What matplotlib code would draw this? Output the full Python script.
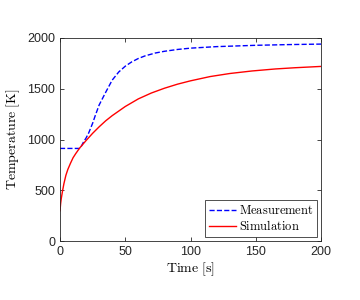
import matplotlib
matplotlib.use("Agg")
import matplotlib.pyplot as plt

meas_t = [0, 5, 10, 15, 16, 18, 20, 22, 25, 27, 30, 35, 40, 45, 50, 55, 60, 65, 73, 80, 90, 100, 120, 150, 175, 200]
meas_T = [912, 912, 912, 912, 925, 975, 1015, 1065, 1160, 1235, 1340, 1465, 1585, 1665, 1722, 1765, 1798, 1823, 1852, 1869, 1887, 1900, 1915, 1928, 1935, 1940]

sim_t = [0, 0.5, 1, 2, 3, 4.5, 6, 8, 10, 12, 15, 20, 25, 30, 35, 40, 50, 60, 70, 80, 90, 100, 115, 130, 147, 165, 180, 200]
sim_T = [298, 370, 420, 497, 565, 647, 705, 765, 820, 860, 915, 990, 1061, 1125, 1184, 1235, 1325, 1400, 1458, 1505, 1545, 1578, 1620, 1650, 1675, 1695, 1707, 1720]

xticks = [0, 50, 100, 150, 200]
yticks = [0, 500, 1000, 1500, 2000]

plt.rcParams['mathtext.fontset'] = 'cm'
plt.rcParams['font.family'] = ['Liberation Sans', 'DejaVu Sans']

fig = plt.figure(figsize=(3.6, 3.0), dpi=100)
ax = fig.add_axes([60/360, 59/300, 261/360, 203/300])
ax.plot(meas_t, meas_T, '--', color='blue', lw=1.0, label=r'$\mathrm{Measurement}$')
ax.plot(sim_t, sim_T, '-', color='red', lw=1.0, label=r'$\mathrm{Simulation}$')
ax.set_xlim(0, 200)
ax.set_ylim(0, 2000)
ax.set_xticks(xticks)
ax.set_yticks(yticks)
ax.tick_params(direction='in', top=True, right=True, labelsize=9, length=3, width=0.6, colors='0.15')
for s in ax.spines.values():
    s.set_linewidth(0.6)
    s.set_color('0.15')
ax.set_xlabel(r'$\mathrm{Time\ [s]}$', fontsize=10, labelpad=2)
ax.set_ylabel(r'$\mathrm{Temperature\ [K]}$', fontsize=10, labelpad=4)
leg = ax.legend(loc='lower right', fontsize=9, frameon=True, fancybox=False, edgecolor='black',
                borderpad=0.3, handlelength=2.2, handletextpad=0.2, labelspacing=0.2, borderaxespad=0.3)
leg.get_frame().set_linewidth(0.6)
fig.savefig('out.png', dpi=100)
